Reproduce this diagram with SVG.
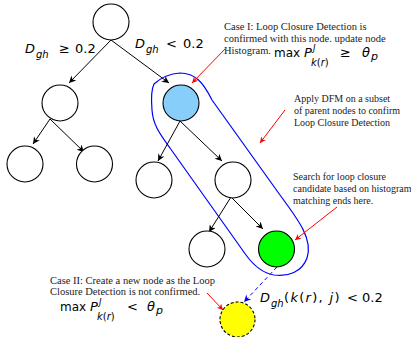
<svg xmlns="http://www.w3.org/2000/svg" width="411" height="337" viewBox="0 0 411 337">
<defs>
<marker id="ab" viewBox="0 0 10 10" refX="10" refY="5" markerWidth="9" markerHeight="7" markerUnits="userSpaceOnUse" orient="auto"><path d="M0,0 L10,5 L0,10 L3,5 Z" fill="#000"/></marker>
<marker id="ar" viewBox="0 0 10 10" refX="10" refY="5" markerWidth="8" markerHeight="6" markerUnits="userSpaceOnUse" orient="auto"><path d="M0,0 L10,5 L0,10 L3,5 Z" fill="#ff0000"/></marker>
<marker id="au" viewBox="0 0 10 10" refX="10" refY="5" markerWidth="9" markerHeight="7" markerUnits="userSpaceOnUse" orient="auto"><path d="M0,0 L10,5 L0,10 L3,5 Z" fill="#0000ff"/></marker>
<style>
.n{stroke:#000;stroke-width:1.1;fill:#fff}
.e{stroke:#000;stroke-width:1;fill:none;marker-end:url(#ab)}
.r{stroke:#ff0000;stroke-width:1;fill:none;marker-end:url(#ar)}
.t{font-family:"Liberation Serif","Times New Roman",serif;font-size:10px;fill:#222}
.c{font-size:10.5px}
.m{font-family:"DejaVu Sans",sans-serif;font-size:13px;fill:#000}
.x{font-size:12px}
.i{font-style:italic}
.s{font-size:10px}
.j{font-size:8.5px;font-style:italic}
</style>
</defs>
<g id="loop"><path d="M154,84 Q165,74 180,73 C195,73 203,82 212,100 L280,195 C300,222 313,240 307,258 C302,272 288,277 274,275 C262,273 254,266 246,255 L170,148 C160,134 153,125 152,110 C151,98 151,90 154,84 Z" fill="none" stroke="#0000ff" stroke-width="1.2"/></g>
<g id="connectors">
<line class="e" x1="111" y1="40" x2="69" y2="83"/>
<line class="e" x1="111" y1="40" x2="169" y2="83"/>
<line class="e" x1="50" y1="119" x2="33" y2="144"/>
<line class="e" x1="50" y1="119" x2="84" y2="152"/>
<line class="e" x1="180" y1="121" x2="158" y2="161"/>
<line class="e" x1="180" y1="121" x2="222" y2="161"/>
<line class="e" x1="231" y1="197" x2="209" y2="232"/>
<line class="e" x1="231" y1="197" x2="263" y2="229"/>
<line x1="277" y1="267" x2="244" y2="302" stroke="#0000ff" stroke-width="1" stroke-dasharray="4,3" marker-end="url(#au)"/>
<line class="r" x1="225" y1="49" x2="192" y2="83"/>
<line class="r" x1="285" y1="110" x2="260" y2="143"/>
<line class="r" x1="337" y1="207" x2="295" y2="240"/>
<line class="r" x1="207" y1="293" x2="223" y2="310"/>
</g>
<g id="root"><circle class="n" cx="111" cy="22" r="18"/></g>
<g id="left"><circle class="n" cx="60" cy="103" r="18"/></g>
<g id="left-left"><circle class="n" cx="25" cy="164" r="18"/></g>
<g id="left-right"><circle class="n" cx="94.5" cy="164" r="18"/></g>
<g id="blue"><circle class="n" cx="181" cy="103" r="18" style="fill:#87cefa"/></g>
<g id="blue-left"><circle class="n" cx="154" cy="180" r="18"/></g>
<g id="blue-right"><circle class="n" cx="233" cy="180" r="18"/></g>
<g id="bottom-left"><circle class="n" cx="207" cy="249" r="18"/></g>
<g id="green"><circle class="n" cx="276.5" cy="249" r="18" style="fill:#00ff00"/></g>
<g id="yellow"><circle class="n" cx="237.5" cy="319.5" r="17.5" style="fill:#ffff00;stroke-dasharray:3,2"/></g>
<g id="labels">
<text class="m"><tspan class="i" x="25" y="53">D</tspan><tspan class="i s" x="36" y="58">gh</tspan><tspan x="59" y="53">≥</tspan><tspan x="75" y="53">0.2</tspan></text>
<text class="m"><tspan class="i" x="135" y="48">D</tspan><tspan class="i s" x="146" y="53">gh</tspan><tspan x="166" y="48">&lt;</tspan><tspan x="183" y="48">0.2</tspan></text>
<text class="t c"><tspan x="224" y="30">Case I: Loop Closure Detection is</tspan><tspan x="224" y="42">confirmed with this node. update node</tspan><tspan x="224" y="54">Histogram.</tspan></text>
<text class="m"><tspan class="x" x="274" y="57">max</tspan><tspan class="i" x="304" y="57">P</tspan><tspan class="j" x="313" y="51">J</tspan><tspan class="s" x="311" y="66"><tspan class="i">k</tspan>(<tspan class="i">r</tspan>)</tspan><tspan x="340" y="57">≥</tspan><tspan class="i" x="362" y="57">θ</tspan><tspan class="i" x="371" y="60" style="font-size:11px">p</tspan></text>
<text class="t"><tspan x="294" y="102">Apply DFM on a subset</tspan><tspan x="294" y="114">of parent nodes to confirm</tspan><tspan x="294" y="126">Loop Closure Detection</tspan></text>
<text class="t"><tspan x="293" y="180">Search for loop closure</tspan><tspan x="293" y="192">candidate based on histogram</tspan><tspan x="293" y="204">matching ends here.</tspan></text>
<text class="t c"><tspan x="50" y="284">Case II: Create a new node as the Loop</tspan><tspan x="50" y="295">Closure Detection is not confirmed.</tspan></text>
<text class="m"><tspan class="x" x="60" y="311">max</tspan><tspan class="i" x="90" y="311">P</tspan><tspan class="j" x="99" y="305">J</tspan><tspan class="s" x="97" y="320"><tspan class="i">k</tspan>(<tspan class="i">r</tspan>)</tspan><tspan x="127" y="311">&lt;</tspan><tspan class="i" x="147" y="311">θ</tspan><tspan class="i" x="156" y="314" style="font-size:11px">p</tspan></text>
<text class="m"><tspan class="i" x="260" y="302">D</tspan><tspan class="i s" x="271" y="307">gh</tspan><tspan x="284" y="302" letter-spacing="1.3">(<tspan class="i">k</tspan>(<tspan class="i">r</tspan>), <tspan class="i">j</tspan>)</tspan><tspan x="347" y="302">&lt;</tspan><tspan x="362" y="302">0.2</tspan></text>
</g>
</svg>
